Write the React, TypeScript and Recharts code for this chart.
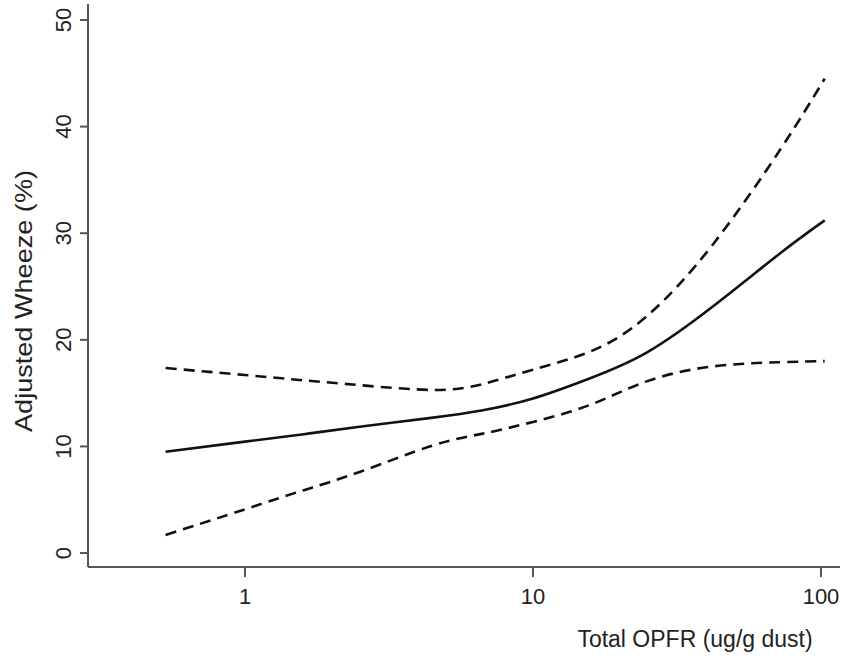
import React from "react";
import { LineChart, Line, XAxis, YAxis, Label } from "recharts";

// Total OPFR (ug/g dust), log scale
const opfr = [0.53, 1.0, 1.6, 2.5, 4.5, 6.7, 10, 15.8, 24.8, 42, 72, 103];
// Adjusted wheeze (%) estimate and 95% CI
const estimate = [9.5, 10.45, 11.15, 11.85, 12.7, 13.4, 14.5, 16.4, 18.8, 23.1, 28.1, 31.2];
const lower = [1.7, 4.1, 5.9, 7.6, 10.1, 11.2, 12.3, 13.9, 16.1, 17.5, 17.9, 18.0];
const upper = [17.35, 16.7, 16.2, 15.75, 15.3, 15.85, 17.2, 18.9, 22.2, 28.9, 37.8, 44.5];

const xTicks = [1, 10, 100];
const yTicks = [0, 10, 20, 30, 40, 50];

const data = opfr.map((x, i) => ({ x, est: estimate[i], lo: lower[i], hi: upper[i] }));

const FONT = "'Liberation Sans', Arial, Helvetica, sans-serif";
const TEXT = "#222";
const AXIS = "#555";

const YTick = (props: any) => {
  const { y, payload } = props;
  const cx = 64;
  return (
    <text
      x={cx}
      y={y}
      transform={`rotate(-90, ${cx}, ${y})`}
      textAnchor="middle"
      dominantBaseline="central"
      fontSize={22}
      fontFamily={FONT}
      fill={TEXT}
    >
      {payload.value}
    </text>
  );
};

export default function App() {
  return (
    <div style={{ position: "absolute", left: 0, top: 0, background: "#fff" }}>
      <LineChart
        width={843}
        height={659}
        data={data}
        margin={{ top: 4, right: 3, bottom: 0, left: 28 }}
      >
        <XAxis
          dataKey="x"
          type="number"
          scale="log"
          domain={[0.285, 116.4]}
          allowDataOverflow
          ticks={xTicks}
          height={92}
          stroke={AXIS}
          strokeWidth={2}
          tickSize={10}
          tickMargin={11}
          tick={{ fontSize: 22, fontFamily: FONT, fill: TEXT }}
          tickLine={{ stroke: AXIS, strokeWidth: 2 }}
        >
          <Label
            content={() => (
              <text x={695} y={647} textAnchor="middle" fontSize={23} fontFamily={FONT} fill={TEXT}>
                Total OPFR (ug/g dust)
              </text>
            )}
          />
        </XAxis>
        <YAxis
          type="number"
          domain={[-1.31, 51.5]}
          allowDataOverflow
          ticks={yTicks}
          width={60}
          stroke={AXIS}
          strokeWidth={2}
          tickSize={8}
          tick={<YTick />}
          tickLine={{ stroke: AXIS, strokeWidth: 2 }}
        >
          <Label
            content={() => (
              <text
                x={23}
                y={301}
                transform="rotate(-90, 23, 301)"
                textAnchor="middle"
                dominantBaseline="central"
                fontSize={24}
                textLength={262}
                lengthAdjust="spacingAndGlyphs"
                fontFamily={FONT}
                fill={TEXT}
              >
                Adjusted Wheeze (%)
              </text>
            )}
          />
        </YAxis>
        <Line
          dataKey="hi"
          type="natural"
          stroke="#111"
          strokeWidth={2.6}
          strokeDasharray="11 7"
          dot={false}
          isAnimationActive={false}
        />
        <Line
          dataKey="est"
          type="natural"
          stroke="#111"
          strokeWidth={2.6}
          dot={false}
          isAnimationActive={false}
        />
        <Line
          dataKey="lo"
          type="natural"
          stroke="#111"
          strokeWidth={2.6}
          strokeDasharray="11 7"
          dot={false}
          isAnimationActive={false}
        />
      </LineChart>
    </div>
  );
}
